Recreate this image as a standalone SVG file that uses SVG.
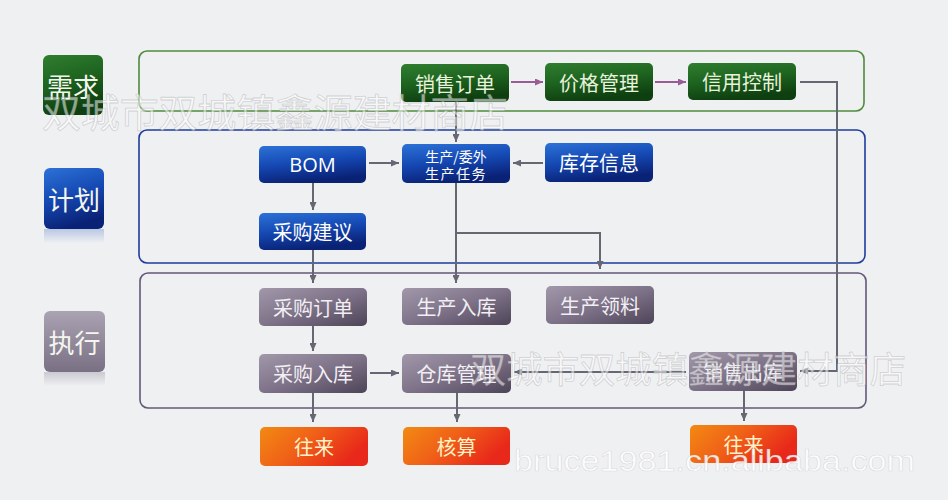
<svg xmlns="http://www.w3.org/2000/svg" width="948" height="500" viewBox="0 0 948 500">
<style>
.frame{fill:none;stroke-width:1.6}
.lbl{font-family:"Noto Sans CJK SC","Noto Sans",sans-serif;text-anchor:middle;dominant-baseline:central}
.big{font-size:26px;fill:#f4f6ee}
.nd{font-size:20px}
.g{fill:url(#gGreen)}
.b{fill:url(#gBlue)}
.p{fill:url(#gGray)}
.o{fill:url(#gOrange)}
.tg{fill:#e8f2dc}
.tb{fill:#ffffff}
.tp{fill:#f2eff4}
.to{fill:#fff2c8}
.con{fill:none;stroke:#676774;stroke-width:2}
.conp{fill:none;stroke:#9a5c96;stroke-width:2}
.wm{font-family:"Noto Sans CJK SC",sans-serif;fill:#ffffff;fill-opacity:0.55;stroke:#8c8c90;stroke-opacity:0.35;stroke-width:0.8}
</style>
<defs>
<linearGradient id="gGreen" x1="0" y1="0" x2="0.3" y2="1">
<stop offset="0" stop-color="#2f7e2f"/><stop offset="0.5" stop-color="#1e6420"/><stop offset="1" stop-color="#0e3f10"/>
</linearGradient>
<linearGradient id="gBlue" x1="0" y1="0" x2="0.3" y2="1">
<stop offset="0" stop-color="#2c72d8"/><stop offset="0.55" stop-color="#1446b0"/><stop offset="1" stop-color="#0a2276"/>
</linearGradient>
<linearGradient id="gGray" x1="0" y1="0" x2="1" y2="1">
<stop offset="0" stop-color="#a298aa"/><stop offset="0.5" stop-color="#7e7388"/><stop offset="1" stop-color="#4e4458"/>
</linearGradient>
<linearGradient id="gGrayL" x1="0" y1="0" x2="0" y2="1">
<stop offset="0" stop-color="#aaa3b2"/><stop offset="1" stop-color="#7a7084"/>
</linearGradient>
<linearGradient id="gOrange" x1="0" y1="0" x2="1" y2="0.4">
<stop offset="0" stop-color="#f28a12"/><stop offset="0.5" stop-color="#f06018"/><stop offset="1" stop-color="#e8281a"/>
</linearGradient>
<linearGradient id="gRefB" x1="0" y1="0" x2="0" y2="1">
<stop offset="0" stop-color="#5a7ac8" stop-opacity="0.35"/><stop offset="1" stop-color="#5a7ac8" stop-opacity="0"/>
</linearGradient>
<linearGradient id="gRefP" x1="0" y1="0" x2="0" y2="1">
<stop offset="0" stop-color="#8a8294" stop-opacity="0.35"/><stop offset="1" stop-color="#8a8294" stop-opacity="0"/>
</linearGradient>
<marker id="ah" viewBox="0 0 8 7" markerWidth="8" markerHeight="7" refX="8" refY="3.5" orient="auto" markerUnits="userSpaceOnUse">
<path d="M0,0 L8,3.5 L0,7 z" fill="#676774"/>
</marker>
<marker id="ahp" viewBox="0 0 8 7" markerWidth="8" markerHeight="7" refX="8" refY="3.5" orient="auto" markerUnits="userSpaceOnUse">
<path d="M0,0 L8,3.5 L0,7 z" fill="#9a5c96"/>
</marker>
</defs>
<rect x="0" y="0" width="948" height="500" fill="#eef0f2"/>

<g id="frames">
<rect class="frame" x="139" y="51" width="725" height="60" rx="8" stroke="#4f8a3c"/>
<rect class="frame" x="139" y="130" width="726" height="133" rx="8" stroke="#1e3c9c"/>
<rect class="frame" x="140" y="273" width="726" height="135" rx="8" stroke="#64587a"/>
</g>

<g id="lane-xuqiu"><rect x="43" y="55" width="60" height="60" rx="6" class="g"/><text class="lbl big" x="73" y="85">需求</text></g>
<g id="lane-jihua"><rect x="44" y="229" width="60" height="14" fill="url(#gRefB)"/><rect x="44" y="168" width="60" height="61" rx="6" class="b"/><text class="lbl big" x="74" y="198">计划</text></g>
<g id="lane-zhixing"><rect x="44" y="372" width="61" height="14" fill="url(#gRefP)"/><rect x="44" y="311" width="61" height="61" rx="6" fill="url(#gGrayL)"/><text class="lbl big" x="74.5" y="341">执行</text></g>

<g id="connectors">
<path class="conp" d="M511,82 H543" marker-end="url(#ahp)"/>
<path class="conp" d="M655,82 H686" marker-end="url(#ahp)"/>
<path class="con" d="M800,82 H837 V371 H800" marker-end="url(#ah)"/>
<path class="con" d="M456,102 V142" marker-end="url(#ah)"/>
<path class="con" d="M369,163 H399" marker-end="url(#ah)"/>
<path class="con" d="M543,163 H513" marker-end="url(#ah)"/>
<path class="con" d="M313,183 V210" marker-end="url(#ah)"/>
<path class="con" d="M313,250 V283" marker-end="url(#ah)"/>
<path class="con" d="M456,183 V283" marker-end="url(#ah)"/>
<path class="con" d="M456,233 H600 V269" marker-end="url(#ah)"/>
<path class="con" d="M313,326 V351" marker-end="url(#ah)"/>
<path class="con" d="M370,373 H399" marker-end="url(#ah)"/>
<path class="con" d="M686,372 H514" marker-end="url(#ah)"/>
<path class="con" d="M313,393 V422" marker-end="url(#ah)"/>
<path class="con" d="M457,393 V422" marker-end="url(#ah)"/>
<path class="con" d="M744,391 V421" marker-end="url(#ah)"/>
</g>

<g id="n-xsdd"><rect x="401" y="64" width="108" height="38" rx="5" class="g"/><text class="lbl nd tg" x="455" y="83">销售订单</text></g>
<g id="n-jggl"><rect x="545" y="63" width="108" height="38" rx="5" class="g"/><text class="lbl nd tg" x="599" y="82">价格管理</text></g>
<g id="n-xykz"><rect x="688" y="63" width="108" height="37" rx="5" class="g"/><text class="lbl nd tg" x="742" y="81.5">信用控制</text></g>

<g id="n-bom"><rect x="259" y="146" width="107" height="37" rx="5" class="b"/><text class="lbl tb" x="312.5" y="164.5" style="font-family:'Open Sans','Noto Sans',sans-serif;font-size:20px">BOM</text></g>
<g id="n-scrw"><rect x="402" y="144" width="108" height="39" rx="5" class="b"/><text class="lbl tb" x="456" y="155.5" style="font-size:14px">生产/委外</text><text class="lbl tb" x="456" y="172.5" style="font-size:14px;letter-spacing:1.5px">生产任务</text></g>
<g id="n-kcxx"><rect x="545" y="143" width="108" height="39" rx="5" class="b"/><text class="lbl nd tb" x="599" y="162.5">库存信息</text></g>
<g id="n-cgjy"><rect x="259" y="213" width="107" height="37" rx="5" class="b"/><text class="lbl nd tb" x="312.5" y="231.5">采购建议</text></g>

<g id="n-cgdd"><rect x="259" y="288" width="108" height="38" rx="5" class="p"/><text class="lbl nd tp" x="313" y="307">采购订单</text></g>
<g id="n-scrk"><rect x="402" y="288" width="109" height="37" rx="5" class="p"/><text class="lbl nd tp" x="456.5" y="306.5">生产入库</text></g>
<g id="n-sclL"><rect x="546" y="286" width="108" height="38" rx="5" class="p"/><text class="lbl nd tp" x="600" y="305">生产领料</text></g>
<g id="n-cgrk"><rect x="259" y="354" width="108" height="39" rx="5" class="p"/><text class="lbl nd tp" x="313" y="373.5">采购入库</text></g>
<g id="n-ckgl"><rect x="402" y="354" width="109" height="39" rx="5" class="p"/><text class="lbl nd tp" x="456.5" y="373.5">仓库管理</text></g>
<g id="n-xsck"><rect x="689" y="352" width="108" height="39" rx="5" class="p"/><text class="lbl nd tp" x="743" y="371.5">销售出库</text></g>

<g id="n-wl1"><rect x="260" y="427" width="108" height="39" rx="5" class="o"/><text class="lbl nd to" x="314" y="446.5">往来</text></g>
<g id="n-hs"><rect x="403" y="427" width="107" height="38" rx="5" class="o"/><text class="lbl nd to" x="456.5" y="446">核算</text></g>
<g id="n-wl2"><rect x="690" y="425" width="107" height="38" rx="5" class="o"/><text class="lbl nd to" x="743.5" y="444">往来</text></g>

<g id="watermarks">
<text class="wm" x="42" y="127" style="font-size:38.5px" textLength="466" lengthAdjust="spacingAndGlyphs">双城市双城镇鑫源建材商店</text>
<text class="wm" x="470" y="383" style="font-size:36.5px" textLength="436" lengthAdjust="spacingAndGlyphs">双城市双城镇鑫源建材商店</text>
<text x="514" y="471" style="font-family:'Liberation Sans',sans-serif;font-size:29px;fill:#ffffff;fill-opacity:0.85;stroke:#9a9aa0;stroke-opacity:0.3;stroke-width:0.6" textLength="401" lengthAdjust="spacingAndGlyphs">bruce1981.cn.alibaba.com</text>
</g>
</svg>
